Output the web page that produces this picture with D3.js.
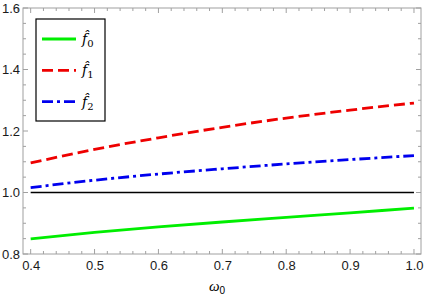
<!DOCTYPE html>
<html lang="en">
<head>
<meta charset="UTF-8" />
<title>f hat vs omega0</title>
<style>
  body { margin: 0; background: #fff; }
  svg { display: block; }
  .tick text { font-family: "Liberation Sans", Arial, sans-serif; font-size: 13px; fill: #1a1a1a; }
</style>
</head>
<body>
<div id="chart"></div>
<script src="https://d3js.org/d3.v7.min.js"></script>
<script>
  const width = 424, height = 307;

  const omega = [0.4, 0.5, 0.6, 0.7, 0.8, 0.9, 1.0];
  const f0 = [0.849, 0.870, 0.888, 0.904, 0.919, 0.934, 0.949];
  const f1 = [1.096, 1.140, 1.178, 1.212, 1.242, 1.268, 1.291];
  const f2 = [1.016, 1.040, 1.060, 1.077, 1.093, 1.107, 1.120];
  const ref = [1.0, 1.0, 1.0, 1.0, 1.0, 1.0, 1.0];

  const xTicks = [0.4, 0.5, 0.6, 0.7, 0.8, 0.9, 1.0];
  const yTicks = [0.8, 1.0, 1.2, 1.4, 1.6];
  const xMinor = d3.range(0.38, 1.0101, 0.02);
  const yMinor = d3.range(0.8, 1.6001, 0.05);

  const series = [
    { name: "0", values: f0, color: "#00ee00", dash: null, legend: true },
    { name: "1", values: f1, color: "#ee0000", dash: "11,5", legend: true },
    { name: "2", values: f2, color: "#0000ee", dash: "11,4,3,4", legend: true },
    { name: "ref", values: ref, color: "#000", dash: null, legend: false, w: 1.5 }
  ];

  const pL = 23, pR = 421, pT = 8, pB = 254;

  const x = d3.scaleLinear().domain([0.388, 1.011]).range([pL, pR]);
  const y = d3.scaleLinear().domain([0.8, 1.6]).range([pB, pT]);

  const svg = d3.select("#chart").append("svg")
    .attr("width", width).attr("height", height);

  // frame
  svg.append("rect")
    .attr("x", pL).attr("y", pT)
    .attr("width", pR - pL).attr("height", pB - pT)
    .attr("fill", "none").attr("stroke", "#a0a0a0").attr("stroke-width", 1);

  const tickColor = "#a0a0a0";
  // minor ticks on all four sides
  const g = svg.append("g").attr("stroke", tickColor).attr("stroke-width", 1);
  xMinor.forEach(v => {
    const px = x(v);
    const major = xTicks.some(t => Math.abs(t - v) < 1e-6);
    const len = major ? 5 : 3;
    g.append("line").attr("x1", px).attr("x2", px).attr("y1", pB).attr("y2", pB - len);
    g.append("line").attr("x1", px).attr("x2", px).attr("y1", pT).attr("y2", pT + len);
  });
  yMinor.forEach(v => {
    const py = y(v);
    const major = yTicks.some(t => Math.abs(t - v) < 1e-6);
    const len = major ? 5 : 3;
    g.append("line").attr("x1", pL).attr("x2", pL + len).attr("y1", py).attr("y2", py);
    g.append("line").attr("x1", pR).attr("x2", pR - len).attr("y1", py).attr("y2", py);
  });

  // axis labels via d3 axes (lines hidden, only text)
  const xAxis = svg.append("g").attr("transform", `translate(0,${pB})`)
    .call(d3.axisBottom(x).tickValues(xTicks).tickFormat(d3.format(".1f")).tickSize(0).tickPadding(7));
  xAxis.select(".domain").remove();

  const yAxis = svg.append("g").attr("transform", `translate(${pL},0)`)
    .call(d3.axisLeft(y).tickValues(yTicks).tickFormat(d3.format(".1f")).tickSize(0).tickPadding(3));
  yAxis.select(".domain").remove();

  // curves
  const line = d3.line()
    .x((d, i) => x(omega[i]))
    .y(d => y(d))
    .curve(d3.curveMonotoneX);

  svg.append("g").selectAll("path")
    .data(series.slice().reverse())
    .join("path")
    .attr("d", d => line(d.values))
    .attr("fill", "none")
    .attr("stroke", d => d.color)
    .attr("stroke-width", d => d.w || 2.8)
    .attr("stroke-dasharray", d => d.dash);

  // legend
  const lg = svg.append("g");
  lg.append("rect")
    .attr("x", 36).attr("y", 19).attr("width", 69).attr("height", 102)
    .attr("fill", "#fff").attr("stroke", "#000").attr("stroke-width", 1.2);

  const legendItems = series.filter(s => s.legend);
  legendItems.forEach((s, i) => {
    const ly = 39 + i * 31.3;
    lg.append("line")
      .attr("x1", 42).attr("x2", 76).attr("y1", ly).attr("y2", ly)
      .attr("stroke", s.color).attr("stroke-width", 2.8)
      .attr("stroke-dasharray", s.dash);
    const t = lg.append("text")
      .attr("x", 82).attr("y", ly + 5)
      .attr("font-family", "'DejaVu Serif', 'Liberation Serif', serif")
      .attr("font-size", 14);
    t.append("tspan").attr("font-style", "italic").text("f\u0302");
    t.append("tspan").attr("font-size", 10).attr("dy", 3).text(s.name);
  });

  // x label
  const xl = svg.append("text")
    .attr("x", 217).attr("y", 291)
    .attr("text-anchor", "middle")
    .attr("font-family", "'Liberation Serif', serif")
    .attr("font-size", 15);
  xl.append("tspan").attr("font-style", "italic").text("ω");
  xl.append("tspan").attr("font-size", 10).attr("dy", 3)
    .attr("font-family", "'Liberation Sans', sans-serif").text("0");
</script>
</body>
</html>
